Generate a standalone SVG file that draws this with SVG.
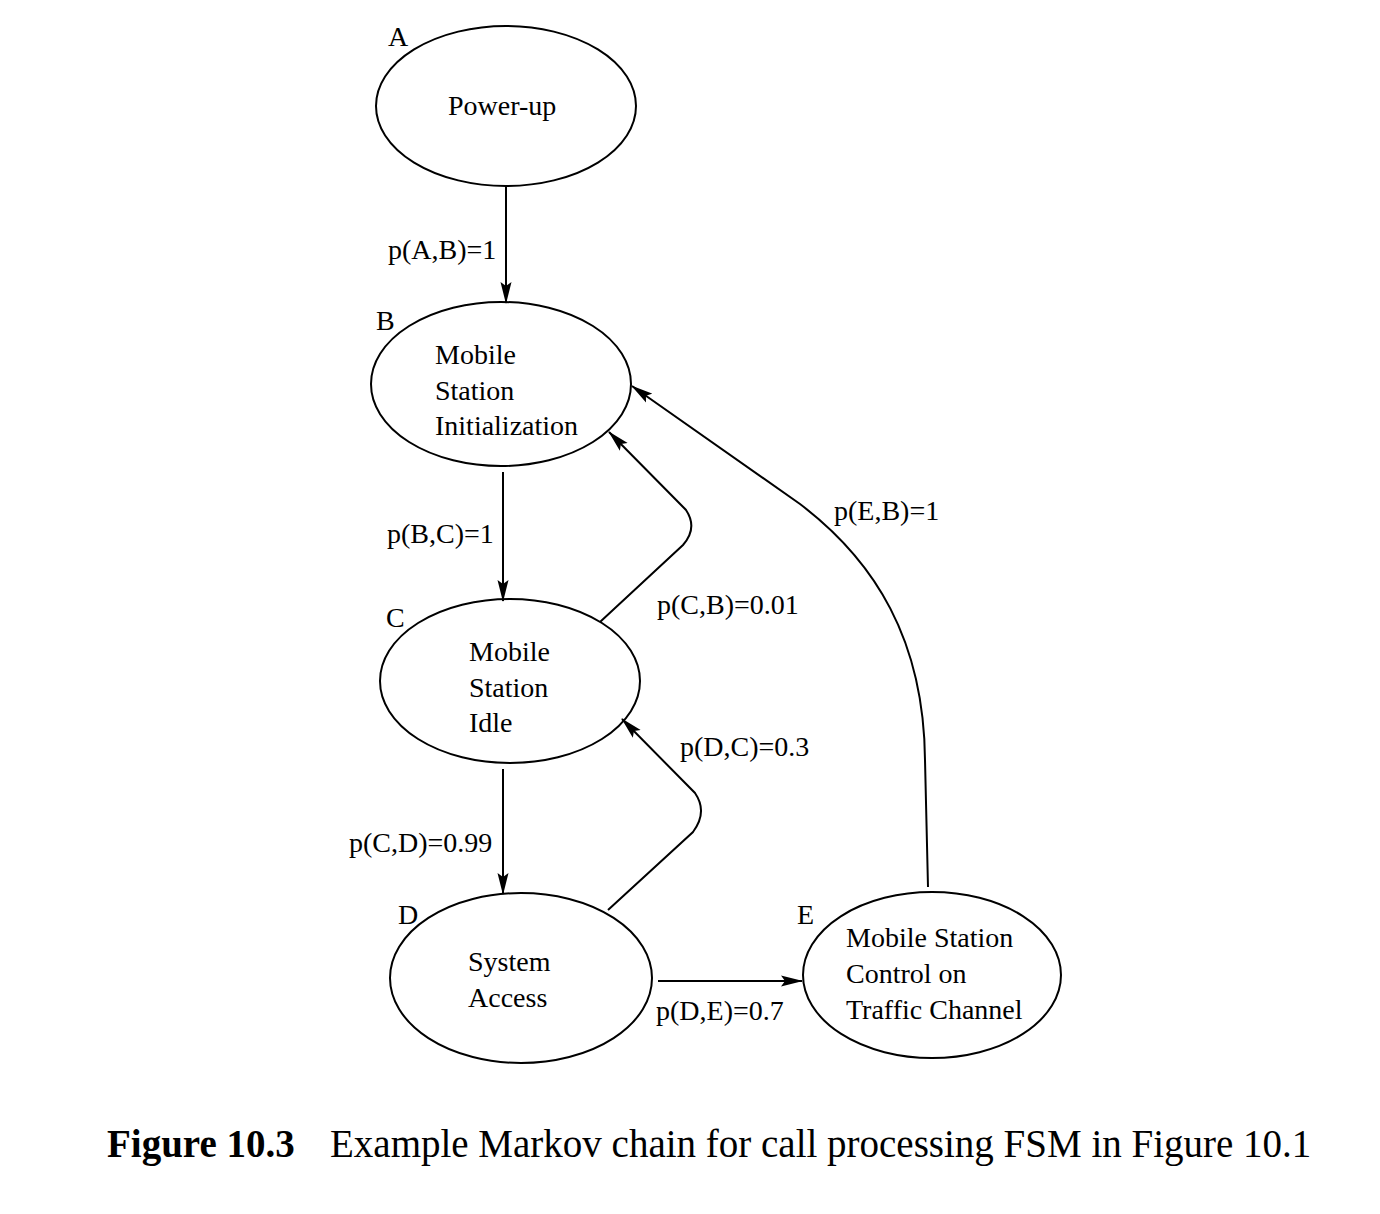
<svg xmlns="http://www.w3.org/2000/svg" width="1380" height="1214" viewBox="0 0 1380 1214">
<defs>
<style>
.node ellipse{fill:none;stroke:#000;stroke-width:2}
text{font-family:"Liberation Serif","Times New Roman",serif;font-size:28px;fill:#000}
.edge{fill:none;stroke:#000;stroke-width:2;marker-end:url(#ah)}
.cap{font-size:39px}
.bold{font-weight:bold}
</style>
<marker id="ah" markerUnits="userSpaceOnUse" markerWidth="22" markerHeight="12" viewBox="0 0 22 12" refX="21" refY="6" orient="auto">
<path d="M0,0.5 L22,6 L0,11.5 L4,6 Z" fill="#000"/>
</marker>
</defs>
<rect width="1380" height="1214" fill="#fff"/>
<g id="node-A" class="node">
<ellipse cx="506" cy="106" rx="130" ry="80"/>
<text x="388" y="46">A</text>
<text x="448" y="115">Power-up</text>
</g>
<g id="node-B" class="node">
<ellipse cx="501" cy="384" rx="130" ry="82"/>
<text x="376" y="330">B</text>
<text x="435" y="364">Mobile</text>
<text x="435" y="400">Station</text>
<text x="435" y="435">Initialization</text>
</g>
<g id="node-C" class="node">
<ellipse cx="510" cy="681" rx="130" ry="82"/>
<text x="386" y="627">C</text>
<text x="469" y="661">Mobile</text>
<text x="469" y="697">Station</text>
<text x="469" y="732">Idle</text>
</g>
<g id="node-D" class="node">
<ellipse cx="521" cy="978" rx="131" ry="85"/>
<text x="398" y="924">D</text>
<text x="468" y="971">System</text>
<text x="468" y="1007">Access</text>
</g>
<g id="node-E" class="node">
<ellipse cx="932" cy="975" rx="129" ry="83"/>
<text x="797" y="924">E</text>
<text x="846" y="947">Mobile Station</text>
<text x="846" y="983">Control on</text>
<text x="846" y="1019">Traffic Channel</text>
</g>
<g id="connectors">
<path class="edge" d="M506,187 L506,303"/>
<path class="edge" d="M503,472 L503,601"/>
<path class="edge" d="M503,769 L503,894"/>
<path class="edge" d="M658,981 L802,981"/>
<path class="edge" d="M600,622 L683,545 Q698,528 686,510 L609,432"/>
<path class="edge" d="M608,910 L693,832 Q708,812 695,793 L622,719"/>
<path class="edge" d="M928,887 L925,760 C924,640 875,561 800,504 L632,386"/>
<text x="388" y="259">p(A,B)=1</text>
<text x="387" y="543">p(B,C)=1</text>
<text x="657" y="614">p(C,B)=0.01</text>
<text x="834" y="520">p(E,B)=1</text>
<text x="680" y="756">p(D,C)=0.3</text>
<text x="349" y="852">p(C,D)=0.99</text>
<text x="656" y="1020">p(D,E)=0.7</text>
</g>
<text class="cap bold" x="107" y="1157">Figure 10.3</text>
<text class="cap" x="330" y="1157">Example Markov chain for call processing FSM in Figure 10.1</text>
</svg>
